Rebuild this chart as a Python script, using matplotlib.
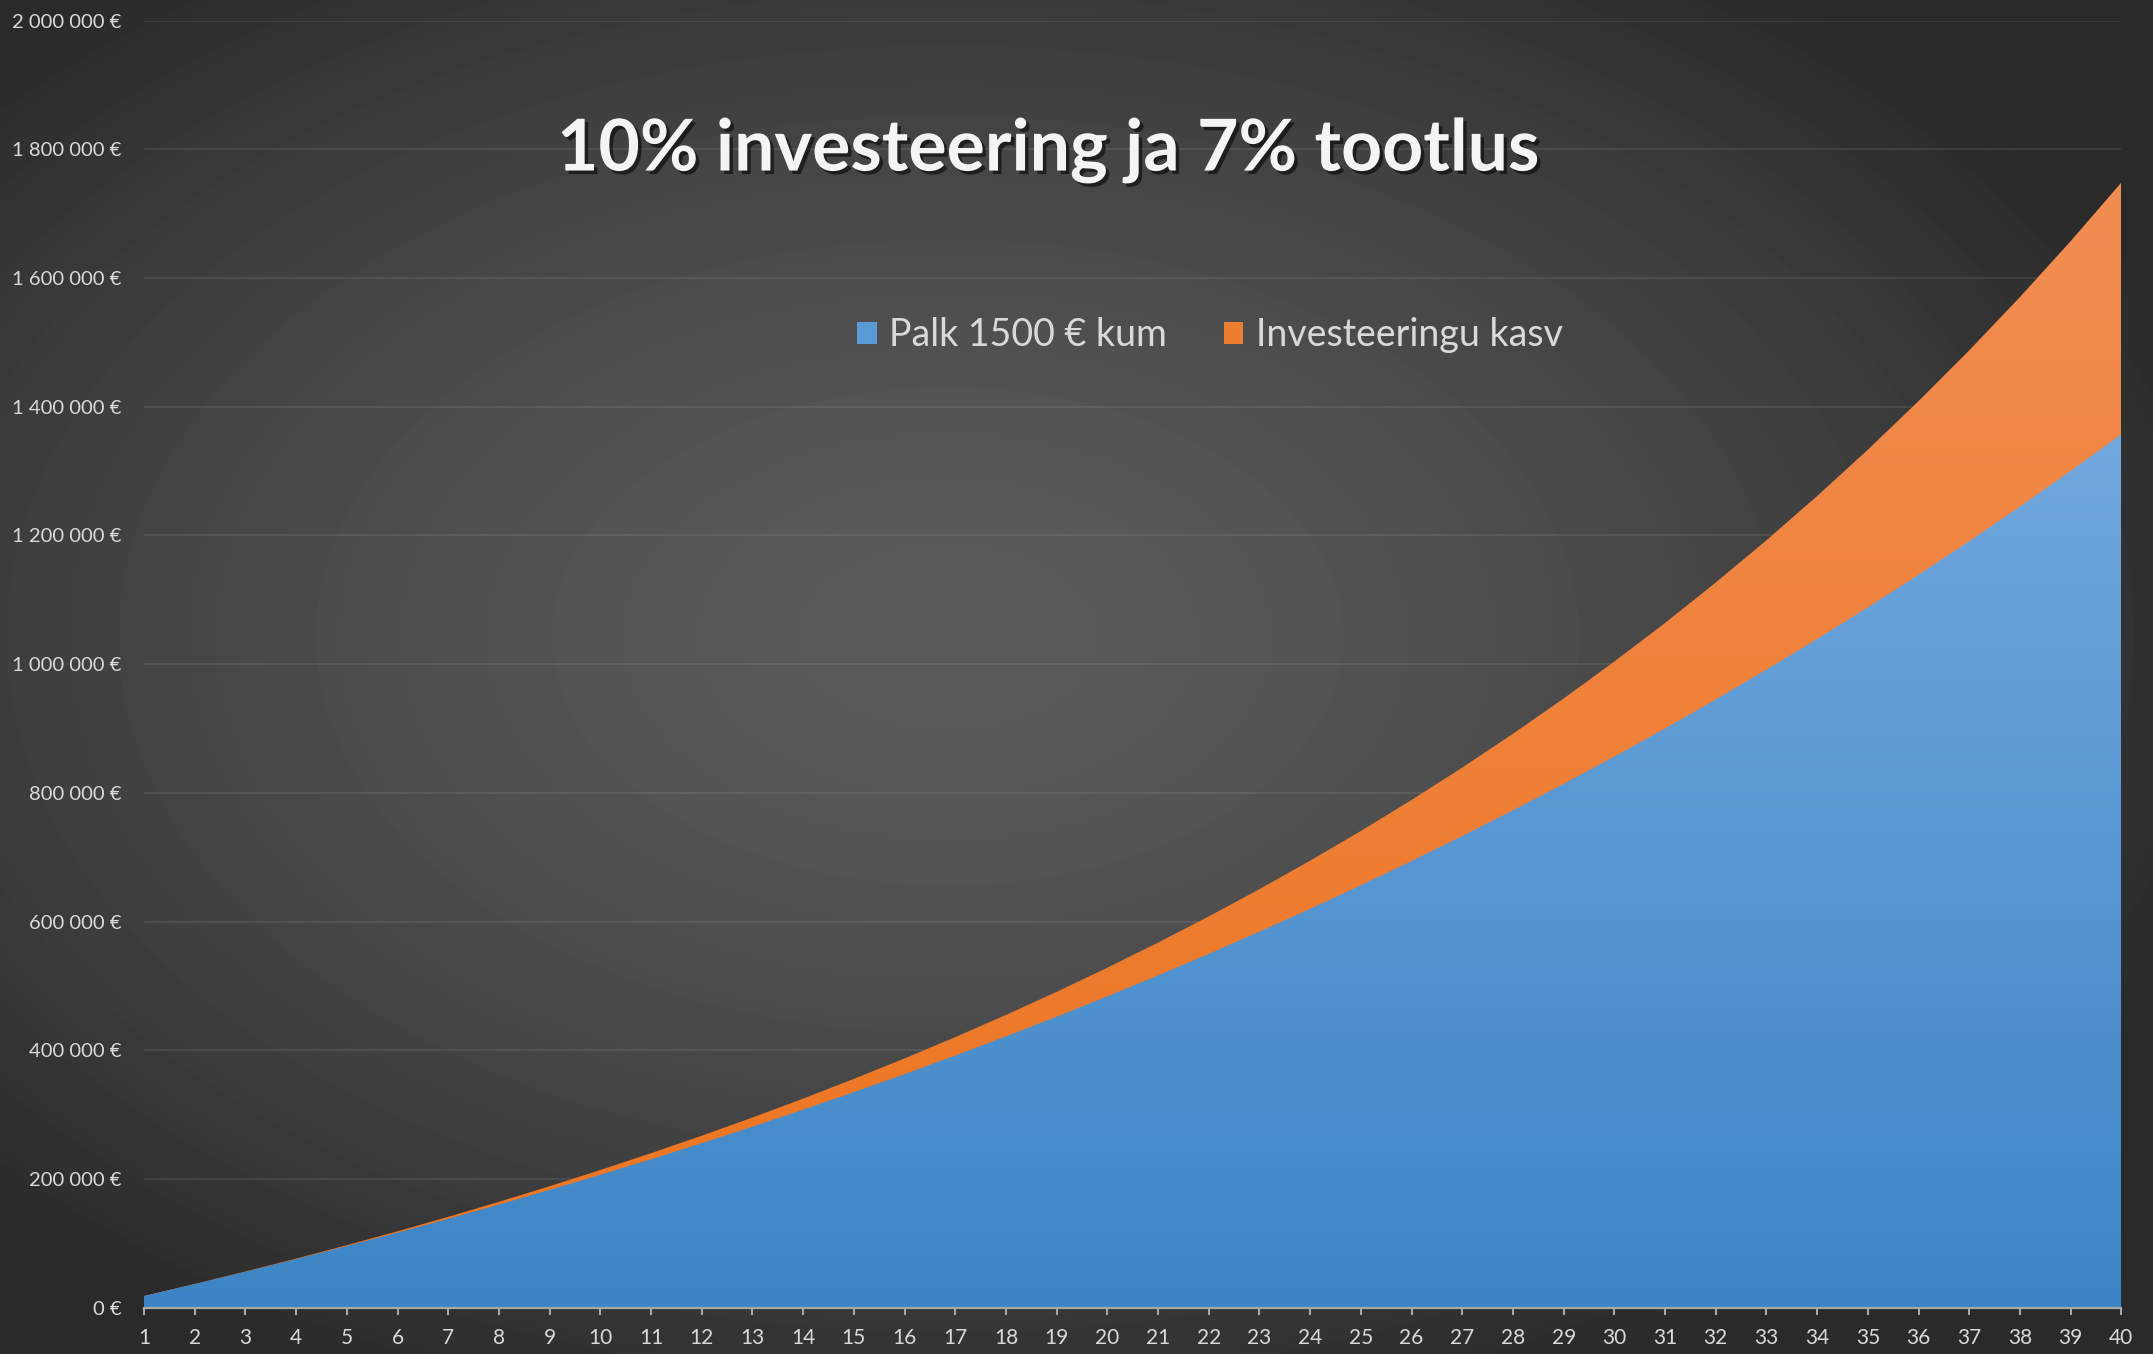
import numpy as np
import matplotlib
matplotlib.use('Agg')
import matplotlib.pyplot as plt
import matplotlib.patheffects as pe
from matplotlib.colors import LinearSegmentedColormap
from matplotlib.patches import Patch

# data (year, cumulative salary, investment growth)
years = list(range(1, 41))
palk_kum = [18000, 36500, 55600, 75300, 95600, 116400, 137900, 160100, 182900, 206400,
            230500, 255500, 281100, 307600, 334800, 362800, 391700, 421500, 452100, 483700,
            516200, 549700, 584200, 619700, 656300, 694000, 732800, 772800, 813900, 856400,
            900000, 945100, 991400, 1039100, 1088300, 1139000, 1191100, 1244900, 1300200, 1357200]
kasv = [0, 100, 400, 800, 1400, 2200, 3100, 4300, 5700, 7400,
        9400, 11600, 14200, 17200, 20600, 24400, 28600, 33300, 38600, 44500,
        51000, 58200, 66100, 74800, 84400, 94900, 106400, 119000, 132700, 147700,
        164000, 181800, 201100, 222200, 245000, 269800, 296600, 325700, 357200, 391300]
y_ticks = [0, 200000, 400000, 600000, 800000, 1000000, 1200000, 1400000, 1600000, 1800000, 2000000]

title = '10% investeering ja 7% tootlus'
labels = ['Palk 1500 € kum', 'Investeeringu kasv']

plt.rcParams['font.family'] = ['Lato', 'DejaVu Sans']

fig = plt.figure(figsize=(21.53, 13.54), dpi=100)

# radial gradient background
bg = fig.add_axes([0, 0, 1, 1], zorder=-10)
yy, xx = np.mgrid[0:1:300j, 0:1:480j]
r = np.sqrt(((xx - 0.44) / 0.62) ** 2 + ((yy - 0.47) / 0.62) ** 2)
r = np.clip(r, 0, 1)
val = 0.355 - (0.355 - 0.165) * r ** 1.5
bg.imshow(val, cmap='gray', vmin=0, vmax=1, extent=[0, 1, 0, 1], aspect='auto',
          interpolation='bicubic', origin='upper')
bg.axis('off')

ax = fig.add_axes([0.0669, 0.0343, 0.9184, 0.9504])
ax.set_facecolor('none')

total = [a + b for a, b in zip(palk_kum, kasv)]


def grad_fill(lower, upper, c0, c1, z):
    poly = ax.fill_between(years, lower, upper, facecolor='none', lw=0)
    cmap = LinearSegmentedColormap.from_list('g', [c0, c1])
    img = ax.imshow(np.linspace(0, 1, 256).reshape(-1, 1), cmap=cmap,
                    extent=[1, 40, 0, max(upper)], origin='lower', aspect='auto', zorder=z)
    img.set_clip_path(poly.get_paths()[0], ax.transData)


grad_fill(0, total, '#ec741e', '#f28d52', 2)
grad_fill(0, palk_kum, '#3d85c6', '#71a8de', 3)

ax.set_xlim(1, 40)
ax.set_ylim(0, 2000000)
ax.set_xticks(years)
ax.set_yticks(y_ticks)
ax.set_yticklabels([f'{v:,}'.replace(',', ' ') + ' €' for v in y_ticks])

ax.grid(axis='y', color='white', alpha=0.09, lw=1.3)
ax.set_axisbelow(True)
for s in ['top', 'right', 'left']:
    ax.spines[s].set_visible(False)
ax.spines['bottom'].set_color('#a8a8a8')
ax.spines['bottom'].set_linewidth(1.6)
ax.spines['bottom'].set_zorder(5)

ax.tick_params(axis='x', length=5, width=1.5, color='#a8a8a8', labelcolor='#d9d9d9',
               labelsize=15, pad=10)
ax.tick_params(axis='y', length=0, labelcolor='#d9d9d9', labelsize=14.6, pad=16)

fig.text(1048 / 2153, 1 - 151 / 1354, title, ha='center', va='center', fontsize=51.5,
         weight='bold', color='#f4f4f4',
         path_effects=[pe.withSimplePatchShadow(offset=(2.5, -2.5), shadow_rgbFace='black', alpha=0.55)])

handles = [Patch(facecolor='#5b9bd5'), Patch(facecolor='#ed7d31')]
ax.legend(handles, labels, loc='center', bbox_to_anchor=(0.562, 0.7526),
          bbox_transform=fig.transFigure, ncol=2, frameon=False, fontsize=27,
          labelcolor='#d9d9d9', handlelength=0.53, handleheight=0.53,
          handletextpad=0.33, columnspacing=1.5)

fig.savefig('out.png', dpi=100)
